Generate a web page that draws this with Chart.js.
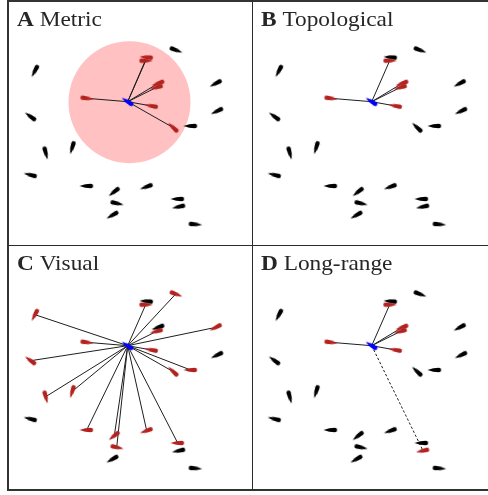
<!DOCTYPE html>
<html>
<head>
<meta charset="utf-8">
<script src="https://cdn.jsdelivr.net/npm/chart.js@4/dist/chart.umd.min.js"></script>
<style>
  body { margin: 0; background: #fff; }
  #figure { position: relative; width: 488px; height: 495px; overflow: hidden; }
  #figure canvas { position: absolute; }
  .rule { position: absolute; background: #2b2b2b; pointer-events: none; }
  #frame { position: absolute; left: 7px; top: 0; width: 500px; height: 491px;
           box-sizing: border-box; border: 2px solid #333; pointer-events: none; }
</style>
</head>
<body>
<div id="figure">
  <canvas id="panel-a" width="245" height="244" style="left:7px;top:1px"></canvas>
  <canvas id="panel-b" width="245" height="244" style="left:251px;top:1px"></canvas>
  <canvas id="panel-c" width="245" height="244" style="left:7px;top:245px"></canvas>
  <canvas id="panel-d" width="245" height="244" style="left:251px;top:245px"></canvas>
  <div id="frame"></div>
  <div class="rule" style="left:252px;top:0;width:1px;height:490px"></div>
  <div class="rule" style="left:7px;top:245px;width:490px;height:1px"></div>
</div>
<script>
  // school positions (panel units, y down) and headings in degrees, clockwise from +x
  const fishX = [28, 23.7, 38.7, 65.3, 23.7, 79.7, 107.3, 109.7, 105.7, 139.7, 170.7, 172, 188, 168.7, 209, 210.3, 183.7,
                 79.7, 144.7, 166.3, 139.7, 138.7, 151.3, 149.7];
  const fishY = [69.7, 115.7, 151.7, 146.3, 174, 185, 190.7, 202.3, 214, 185.7, 198, 205.7, 223.3, 49, 82.3, 110, 125,
                 97.3, 105, 126.7, 56.3, 59.7, 82.3, 86.3];
  const fishHeading = [-62, 36, -105, -73, 14, 0, -38, 193, -30, -20, 0, -12, 185, -159, -28, -26, 0,
                       -172, 10, 43, 5, 180, -20, -15];

  const focalX = 120.7;
  const focalY = 100.7;
  const focalHeading = 33;
  const metricRadius = 61;

  // indices into the school arrays
  const metricNeighbours = [17, 18, 19, 20, 21, 22, 23];
  const topologicalNeighbours = [17, 18, 21, 22, 23];
  const visualNeighbours = [0, 1, 2, 3, 5, 6, 7, 9, 10, 13, 14, 16, 17, 18, 19, 21, 23];
  const longRangeNeighbours = [11];

  const panelLetters = ['A', 'B', 'C', 'D'];
  const panelNames = ['Metric', 'Topological', 'Visual', 'Long-range'];

  function makeFish(color) {
    const c = document.createElement('canvas');
    c.width = 15;
    c.height = 6;
    const g = c.getContext('2d');
    g.fillStyle = color;
    g.beginPath();
    g.moveTo(0.3, 3);
    g.quadraticCurveTo(6, 0.8, 11.6, 0.7);
    g.arc(11.6, 3, 2.3, -Math.PI / 2, Math.PI / 2);
    g.quadraticCurveTo(6, 5.2, 0.3, 3);
    g.fill();
    return c;
  }

  const blackFish = makeFish('#000');
  const redFish = makeFish('#b2221f');
  const blueFish = makeFish('#0000ff');

  // LaTeX-style panel label, stretched a little to match the wider original face
  const titlePlugin = {
    id: 'panelTitle',
    afterDraw(chart, args, opts) {
      const ctx = chart.ctx;
      ctx.save();
      ctx.translate(10, 25);
      ctx.scale(1.11, 1);
      ctx.fillStyle = '#262626';
      ctx.textBaseline = 'alphabetic';
      ctx.font = 'bold 21px "Liberation Serif"';
      ctx.fillText(opts.letter, 0, 0);
      const w = ctx.measureText(opts.letter + ' ').width;
      ctx.font = '21px "Liberation Serif"';
      ctx.fillText(opts.name, w, 0);
      ctx.restore();
    }
  };

  function linkDataset(k, dashed) {
    return {
      type: 'scatter',
      showLine: true,
      order: 3,
      data: [{ x: focalX, y: focalY }, { x: fishX[k], y: fishY[k] }],
      borderColor: '#1e1e1e',
      borderWidth: 1,
      borderDash: dashed ? [2.5, 2] : [],
      pointRadius: 0
    };
  }

  function buildPanel(id, idx, neighbours, options = {}) {
    const red = new Set(neighbours.concat(options.longRange || []));
    const datasets = [];

    if (options.radius) {
      datasets.push({
        order: 5,
        data: [{ x: focalX + 1.8, y: focalY + 0.5 }],
        backgroundColor: '#ffc1c1',
        borderWidth: 0,
        pointRadius: (ctx) => {
          const sx = ctx.chart.scales.x;
          return sx.getPixelForValue(options.radius) - sx.getPixelForValue(0);
        }
      });
    }

    neighbours.forEach((k) => datasets.push(linkDataset(k, false)));
    (options.longRange || []).forEach((k) => datasets.push(linkDataset(k, true)));

    datasets.push({
      order: 2,
      data: fishX.map((x, i) => ({ x, y: fishY[i] })),
      pointStyle: (ctx) => (red.has(ctx.dataIndex) ? redFish : blackFish),
      rotation: (ctx) => fishHeading[ctx.dataIndex]
    });

    datasets.push({
      order: 1,
      data: [{ x: focalX, y: focalY }],
      pointStyle: blueFish,
      rotation: focalHeading
    });

    return new Chart(document.getElementById(id), {
      type: 'scatter',
      data: { datasets },
      options: {
        responsive: false,
        animation: false,
        devicePixelRatio: 1,
        layout: { padding: 0, autoPadding: false },
        events: [],
        clip: false,
        scales: {
          x: { type: 'linear', min: 0, max: 245, display: false },
          y: { type: 'linear', min: 0, max: 244, reverse: true, display: false }
        },
        plugins: {
          legend: { display: false },
          tooltip: { enabled: false },
          panelTitle: { letter: panelLetters[idx], name: panelNames[idx] }
        }
      },
      plugins: [titlePlugin]
    });
  }

  buildPanel('panel-a', 0, metricNeighbours, { radius: metricRadius });
  buildPanel('panel-b', 1, topologicalNeighbours);
  buildPanel('panel-c', 2, visualNeighbours);
  buildPanel('panel-d', 3, topologicalNeighbours, { longRange: longRangeNeighbours });
</script>
</body>
</html>
